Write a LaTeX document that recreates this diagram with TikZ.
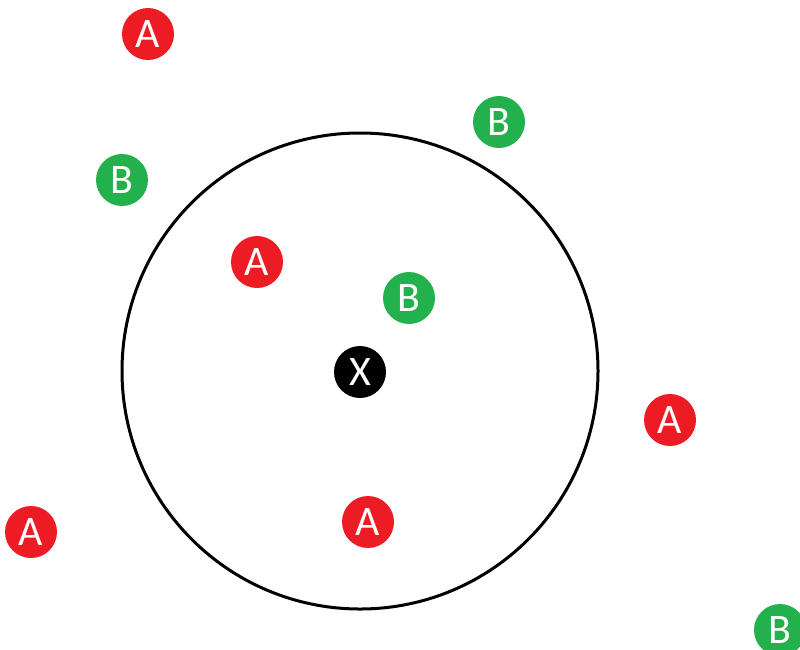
\documentclass[tikz,border=0pt]{standalone}
\usepackage{xcolor}
\usepackage{fontspec}
\setmainfont{Carlito}
\usepackage{tikz}
\usetikzlibrary{positioning}

\begin{document}
\begin{tikzpicture}[x=1pt,y=-1pt]
  \definecolor{pointred}{RGB}{237,28,36}
  \definecolor{pointgreen}{RGB}{34,177,76}
  \tikzstyle{point}=[circle,minimum size=52pt,inner sep=0pt,text=white,font=\fontsize{42}{42}\selectfont]
  \tikzstyle{class a}=[point,fill=pointred]
  \tikzstyle{class b}=[point,fill=pointgreen]
  \tikzstyle{query}=[point,fill=black]

  % CONSTANTS
  \def\rrange{238}

  \useasboundingbox (0,0) rectangle (800,649);

  % Query point and its neighbourhood
  \node[query] (x) at (360,372) {X};
  \draw[line width=3pt] (360,371) circle[radius=\rrange];

  % Class A points
  \foreach \name/\px/\py in {a1/148/34, a2/257/262, a3/670/420, a4/31/532, a5/368/522}{
      \node[class a] (\name) at (\px,\py) {A};
    }

  % Class B points
  \foreach \name/\px/\py in {b1/499/122, b2/122/180, b3/409/298, b4/780/630}{
      \node[class b] (\name) at (\px,\py) {B};
    }

\end{tikzpicture}
\end{document}
